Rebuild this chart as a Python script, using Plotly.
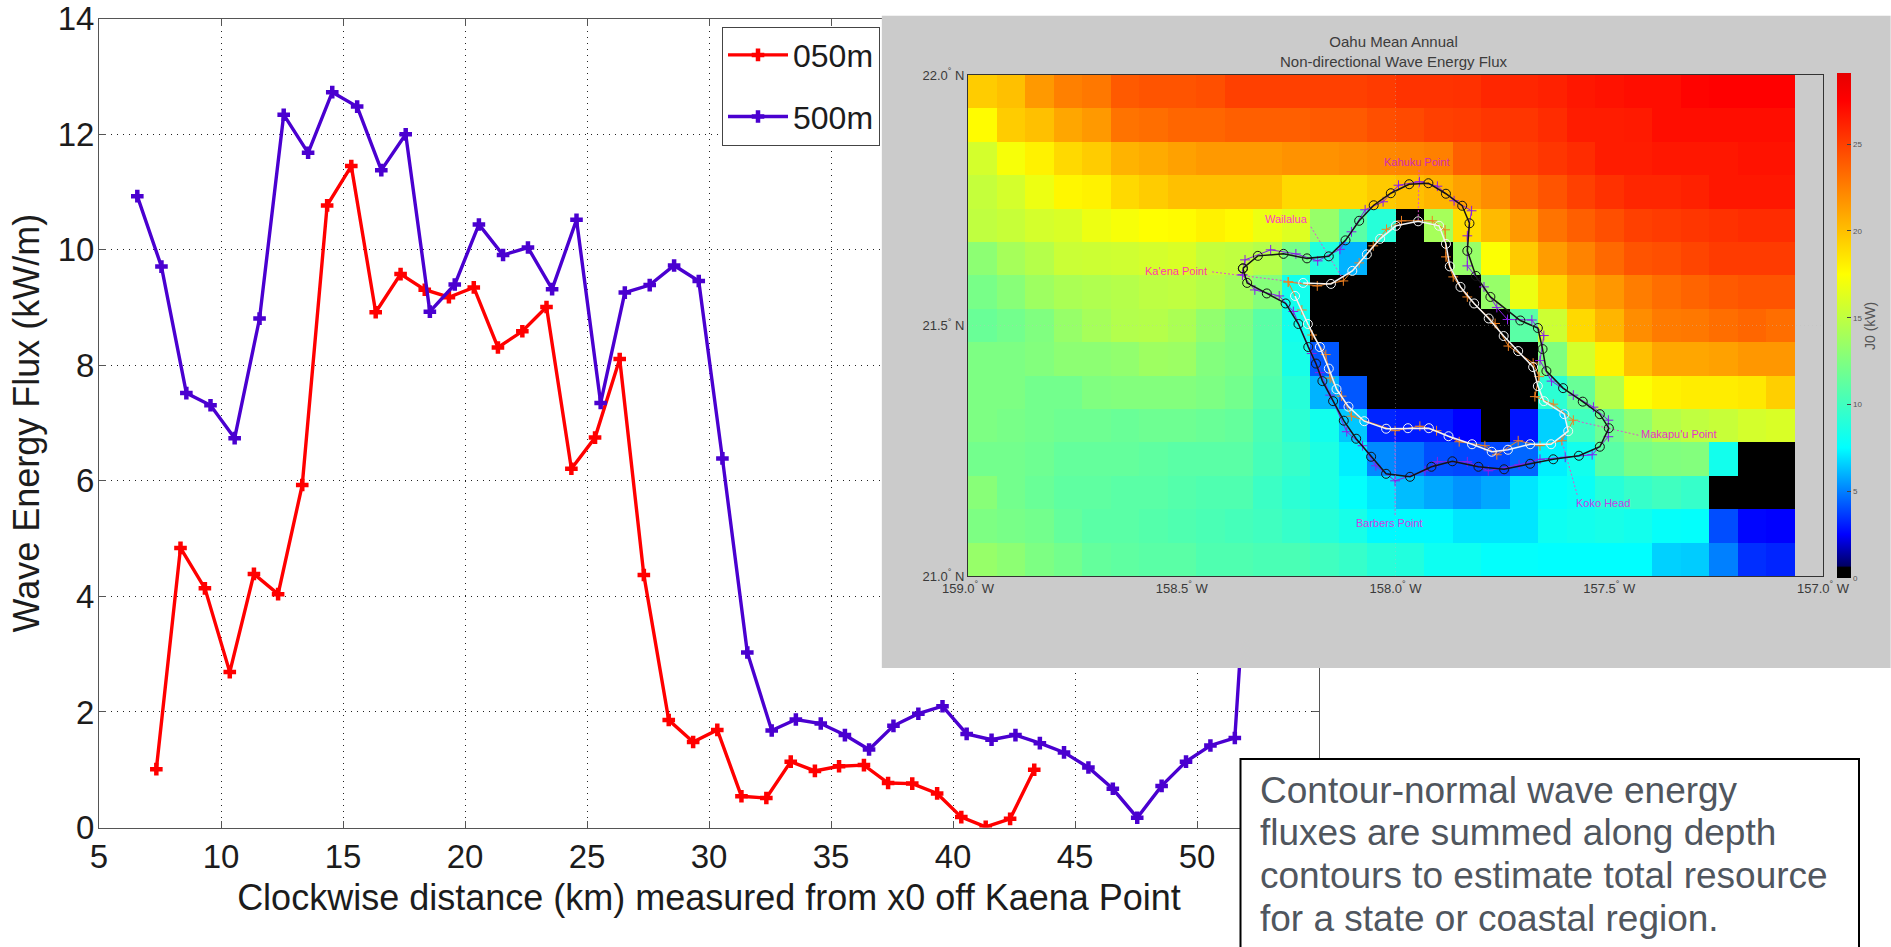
import plotly.graph_objects as go

# ---------- line chart data ----------
X_050 = [7.35, 8.34, 9.34, 10.36, 11.35, 12.34, 13.33, 14.35, 15.34, 16.34, 17.36, 18.35, 19.34, 20.36, 21.35, 22.35, 23.34, 24.36, 25.33, 26.34, 27.33, 28.35, 29.35, 30.34, 31.33, 32.35, 33.35, 34.34, 35.33, 36.35, 37.34, 38.33, 39.35, 40.34, 41.34, 42.34, 43.33]
Y_050 = [1.01, 4.84, 4.14, 2.69, 4.39, 4.04, 5.93, 10.77, 11.45, 8.92, 9.58, 9.31, 9.18, 9.35, 8.31, 8.59, 9.01, 6.21, 6.75, 8.11, 4.37, 1.86, 1.48, 1.69, 0.54, 0.51, 1.14, 0.98, 1.06, 1.08, 0.77, 0.76, 0.59, 0.18, 0.01, 0.15, 1.0]
X_500 = [6.57, 7.56, 8.58, 9.57, 10.56, 11.58, 12.57, 13.57, 14.56, 15.58, 16.57, 17.57, 18.56, 19.58, 20.57, 21.56, 22.58, 23.57, 24.57, 25.56, 26.55, 27.57, 28.57, 29.58, 30.55, 31.57, 32.57, 33.56, 34.58, 35.57, 36.56, 37.56, 38.58, 39.57, 40.56, 41.58, 42.56, 43.56, 44.55, 45.55, 46.55, 47.55, 48.55, 49.55, 50.55, 51.55, 52.55]
Y_500 = [10.93, 9.71, 7.52, 7.31, 6.74, 8.81, 12.34, 11.68, 12.73, 12.48, 11.38, 12.0, 8.93, 9.4, 10.44, 9.91, 10.04, 9.32, 10.52, 7.35, 9.26, 9.39, 9.73, 9.46, 6.39, 3.03, 1.68, 1.87, 1.8, 1.6, 1.35, 1.76, 1.97, 2.1, 1.62, 1.52, 1.6, 1.46, 1.3, 1.04, 0.67, 0.17, 0.72, 1.14, 1.42, 1.55, 8.0]
X_TICKS = [5, 10, 15, 20, 25, 30, 35, 40, 45, 50]
Y_TICKS = [0, 2, 4, 6, 8, 10, 12, 14]

# ---------- map data (kW/m, rows north to south, 0 = land) ----------
ROW_00 = [19.5, 20, 21.5, 22.5, 22.8, 24, 24.2, 24.2, 24.4, 25, 25, 25, 25, 25, 25.2, 25.5, 25.5, 25.6, 26, 26, 26.2, 26.6, 26.8, 27, 27, 27.4, 27.5, 27.5, 27.5, None]
ROW_01 = [17.6, 19.5, 20, 21, 21.5, 23, 23.2, 23.5, 23.5, 23.8, 23.8, 23.8, 24, 24, 24.4, 24.6, 25, 25.1, 25.4, 25.4, 25.8, 26.4, 26.4, 26.5, 27, 27, 27, 27, 27, None]
ROW_02 = [15.8, 17.2, 18, 19, 19.5, 20.5, 20.8, 21.2, 21.5, 21.5, 21.5, 21.8, 21.8, 22, 22.2, 22.3, 22.5, 23.8, 24.4, 25, 25.4, 25.8, 26.4, 26.4, 26.6, 26.6, 26.6, 26.8, 26.8, None]
ROW_03 = [15.2, 15.8, 16.8, 17.8, 18, 19, 19.5, 20, 20, 20, 20, 19, 19, 19, 19.6, 20, 20.4, 21.2, 22, 23.5, 24.2, 25, 25.6, 26, 26, 26.2, 26.6, 26.6, 26.6, None]
ROW_04 = [15, 15.3, 15.8, 16, 16.8, 17.2, 17.5, 17.6, 18, 17.7, 16.8, 16.2, 13.4, 11, 9, 0, 14, 18.8, 20.2, 21.5, 23, 23.8, 24.4, 25, 25.2, 25.4, 25.6, 25.8, 25.8, None]
ROW_05 = [13, 14, 14.6, 15.4, 15.5, 15.6, 15.8, 16, 15.2, 15, 14.6, 12.2, 8.8, 6, 0, 0, 0, 13.4, 17.4, 19.6, 21.4, 22.4, 23.4, 24.2, 24.4, 24.8, 25.2, 25.2, 25.2, None]
ROW_06 = [12.2, 12.8, 13.7, 14.2, 14.4, 14.6, 14.9, 15, 14.6, 13.9, 12.7, 8.2, 0, 0, 0, 0, 0, 0, 13.4, 16.8, 19.2, 20.8, 21.6, 22.6, 23.2, 23.6, 24, 24.2, 24.2, None]
ROW_07 = [11.6, 12, 12.5, 13.4, 14, 14.5, 14.6, 14.2, 13.2, 12.4, 11, 8.2, 0, 0, 0, 0, 0, 0, 0, 11, 15.5, 19, 20.4, 22, 22.7, 22.8, 23.2, 23.5, 23.2, None]
ROW_08 = [12.4, 12.4, 12.6, 13, 13, 13.2, 13.7, 13.6, 12.6, 12.3, 11, 8.4, 4.2, 0, 0, 0, 0, 0, 0, 0, 12.5, 15.8, 18, 20, 21, 21, 21.2, 21.6, 21.6, None]
ROW_09 = [12.4, 12.4, 12, 12, 12.5, 12.6, 12.6, 12.6, 12.4, 12, 10.8, 9, 6, 4.2, 0, 0, 0, 0, 0, 0, 9.2, 11.6, 14.6, 17.4, 18, 18.2, 18.2, 18.4, 19.4, None]
ROW_10 = [12.4, 12.2, 12, 11.8, 11.8, 11.6, 11.8, 11.8, 11.6, 11.4, 10.4, 9.2, 8.2, 6.4, 3.2, 3, 3, 2.5, 0, 2.9, 6.6, 10, 11.8, 13.2, 14.5, 15, 15.3, 15.8, 16, None]
ROW_11 = [12, 12, 11.8, 11.4, 11.4, 11.4, 11.2, 11, 11, 11, 10.2, 9.6, 8.6, 7.2, 5.2, 4.8, 4, 3.9, 3.9, 4.5, 7.2, 8.2, 11, 12.2, 12.5, 12.6, 8.2, 0, 0, None]
ROW_12 = [12.8, 12, 11.6, 11.2, 11.2, 11, 11, 10.8, 10.6, 10.6, 9.8, 9.2, 8.6, 7.6, 7, 6.2, 5.8, 5.4, 5.8, 7, 7.6, 7.9, 9, 9.6, 10, 9.6, 0, 0, 0, None]
ROW_13 = [12.4, 12.2, 12, 11.4, 11, 11, 10.8, 10.6, 10.4, 10.2, 10, 9.6, 9, 8.4, 7.4, 7.4, 7.4, 7, 7, 7, 8, 8.2, 8.4, 8.2, 7.7, 7.6, 4, 2.6, 2.5, None]
ROW_14 = [13.4, 13, 12.4, 12, 11.4, 11.2, 11, 11, 10.6, 10.6, 10.4, 10.4, 10, 9.6, 9, 8.8, 8, 8, 7.6, 7.6, 7.5, 7.5, 7.5, 7.5, 6.6, 6.5, 5, 3.4, 3.2, None]
Z_MAP = [ROW_00, ROW_01, ROW_02, ROW_03, ROW_04, ROW_05, ROW_06, ROW_07, ROW_08, ROW_09, ROW_10, ROW_11, ROW_12, ROW_13, ROW_14]

# contours, longitude in degrees W, latitude in degrees N
LON_OUTER_B = [158.357, 158.322, 158.262, 158.207, 158.156, 158.117, 158.085, 158.051, 158.011, 157.968, 157.923, 157.882, 157.844, 157.827, 157.832, 157.812, 157.778, 157.708, 157.667, 157.656, 157.647, 157.608, 157.562, 157.522, 157.501, 157.522, 157.571, 157.631, 157.685, 157.746, 157.806, 157.867, 157.916, 157.966, 158.022, 158.057, 158.092, 158.121, 158.146, 158.171, 158.186, 158.204, 158.227, 158.257, 158.301, 158.347, 158.357]
LAT_OUTER_B = [21.614, 21.639, 21.643, 21.634, 21.638, 21.67, 21.709, 21.74, 21.764, 21.782, 21.784, 21.763, 21.739, 21.704, 21.649, 21.599, 21.557, 21.51, 21.495, 21.453, 21.409, 21.375, 21.348, 21.323, 21.295, 21.258, 21.24, 21.233, 21.224, 21.213, 21.218, 21.229, 21.218, 21.198, 21.204, 21.238, 21.274, 21.31, 21.349, 21.389, 21.424, 21.457, 21.503, 21.544, 21.564, 21.585, 21.614]
LON_INNER_W = [158.216, 158.151, 158.101, 158.067, 158.036, 157.999, 157.947, 157.898, 157.882, 157.873, 157.848, 157.816, 157.782, 157.747, 157.713, 157.678, 157.667, 157.653, 157.605, 157.596, 157.636, 157.685, 157.737, 157.775, 157.821, 157.876, 157.922, 157.971, 158.022, 158.073, 158.11, 158.138, 158.156, 158.177, 158.205, 158.235]
LAT_INNER_W = [21.585, 21.583, 21.609, 21.642, 21.673, 21.699, 21.708, 21.699, 21.663, 21.618, 21.577, 21.544, 21.514, 21.479, 21.449, 21.417, 21.379, 21.349, 21.323, 21.289, 21.263, 21.263, 21.252, 21.248, 21.263, 21.279, 21.295, 21.295, 21.294, 21.309, 21.338, 21.373, 21.414, 21.457, 21.503, 21.559]
LON_OUTER_P = [158.358, 158.352, 158.292, 158.233, 158.182, 158.13, 158.103, 158.071, 158.029, 157.993, 157.944, 157.902, 157.863, 157.822, 157.832, 157.832, 157.793, 157.763, 157.738, 157.681, 157.653, 157.662, 157.635, 157.584, 157.537, 157.502, 157.502, 157.54, 157.603, 157.662, 157.711, 157.783, 157.832, 157.902, 157.931, 158.001, 158.046, 158.077, 158.114, 158.153, 158.177, 158.196, 158.239, 158.272, 158.329, 158.358]
LAT_OUTER_P = [21.601, 21.631, 21.651, 21.643, 21.629, 21.652, 21.687, 21.731, 21.747, 21.78, 21.787, 21.778, 21.749, 21.729, 21.679, 21.619, 21.577, 21.536, 21.512, 21.511, 21.48, 21.43, 21.389, 21.361, 21.337, 21.311, 21.278, 21.242, 21.237, 21.233, 21.222, 21.21, 21.228, 21.228, 21.21, 21.19, 21.22, 21.26, 21.288, 21.361, 21.406, 21.444, 21.528, 21.559, 21.571, 21.601]
LON_INNER_O = [158.251, 158.183, 158.122, 158.085, 158.052, 158.021, 157.986, 157.914, 157.884, 157.882, 157.865, 157.832, 157.767, 157.736, 157.678, 157.664, 157.674, 157.631, 157.584, 157.611, 157.662, 157.713, 157.763, 157.791, 157.851, 157.904, 157.943, 158.001, 158.103, 158.126, 158.153, 158.163, 158.195, 158.219, 158.251]
LAT_INNER_O = [21.587, 21.579, 21.589, 21.625, 21.659, 21.692, 21.709, 21.709, 21.691, 21.637, 21.597, 21.557, 21.504, 21.459, 21.425, 21.398, 21.358, 21.343, 21.311, 21.27, 21.26, 21.27, 21.242, 21.26, 21.268, 21.29, 21.299, 21.29, 21.319, 21.359, 21.395, 21.442, 21.481, 21.531, 21.587]

PLACE_NAMES = ["Kahuku Point", "Wailalua", "Ka'ena Point", "Makapu'u Point", "Koko Head", "Barbers Point"]
PLACE_LON = [157.950, 158.254, 158.514, 157.338, 157.514, 158.014]
PLACE_LAT = [21.826, 21.713, 21.609, 21.283, 21.146, 21.106]
PLACE_COLORS = ["#d42cb0", "#ff38c8", "#ff38b0", "#e830c8", "#c83ce6", "#d03ce6"]
LEADER_LON = [[157.945, 157.947], [158.198, 158.126], [158.429, 158.219], [157.432, 157.584], [157.575, 157.611], [158.001, 158.001]]
LEADER_LAT = [[21.81, 21.707], [21.697, 21.597], [21.607, 21.585], [21.281, 21.311], [21.162, 21.27], [21.122, 21.291]]

MAP_LON_TICKS = [159.0, 158.5, 158.0, 157.5, 157.0]
MAP_LAT_TICKS = [21.0, 21.5, 22.0]
CB_TICKS = [0, 5, 10, 15, 20, 25]

NOTE_LINES = ["Contour-normal wave energy", "fluxes are summed along depth", "contours to estimate total resource", "for a state or coastal region."]
NOTE_LINE_PX = [790, 832, 875, 918]

W, H = 1891, 947
RED = "#ff0000"
PURPLE = "#4a00d0"
FONT = "Liberation Sans"
INK = "#1c1c1c"


def fx(px):
    return px / W


def fy(py):
    return 1 - py / H


def main_trace(x, y, name, color):
    return go.Scatter(
        x=x, y=y, name=name, legendgroup=name, mode="lines+markers",
        line=dict(color=color, width=3.4),
        marker=dict(symbol="cross-thin", size=9, color=color, line=dict(color=color, width=4.5)),
        xaxis="x", yaxis="y",
    )


fig = go.Figure()
fig.add_trace(main_trace(X_050, Y_050, "050m", RED))
fig.add_trace(main_trace(X_500, Y_500, "500m", PURPLE))

# grey panel that sits over the chart
fig.add_trace(go.Heatmap(z=[[1]], colorscale=[[0, "#cbcbcb"], [1, "#cbcbcb"]], showscale=False,
                         hoverinfo="skip", xaxis="x2", yaxis="y2"))

CS_MAX = 29.1
stops = [(0, "#000000"), (0.6, "#000000"), (0.7, "#000064"), (2.5, "#0000ff"), (7.5, "#00ffff"),
         (12.5, "#80ff80"), (17.5, "#ffff00"), (22.5, "#ff8000"), (27.5, "#ff0000"), (29.1, "#e60000")]
fig.add_trace(go.Heatmap(
    z=Z_MAP, x0=159 - 1 / 30, dx=-1 / 15, y0=22 - 1 / 30, dy=-1 / 15,
    zmin=0, zmax=CS_MAX, colorscale=[[v / CS_MAX, c] for v, c in stops],
    hoverongaps=False, xaxis="x3", yaxis="y3",
    colorbar=dict(
        x=fx(1837), xanchor="left", xpad=0, thickness=14, thicknessmode="pixels",
        y=fy(578), yanchor="bottom", ypad=0, len=505, lenmode="pixels",
        outlinewidth=0, tickvals=CB_TICKS, ticks="inside", ticklen=4, tickcolor="#444444",
        tickfont=dict(family=FONT, size=8, color="#555555"),
    ),
))

for lon, lat in zip(LEADER_LON, LEADER_LAT):
    fig.add_trace(go.Scatter(x=lon, y=lat, mode="lines", showlegend=False, hoverinfo="skip",
                             line=dict(color="#e050d0", width=1, dash="2px,2px"), xaxis="x3", yaxis="y3"))


def contour(lon, lat, line_color, width, symbol, size, marker_width):
    fig.add_trace(go.Scatter(x=lon, y=lat, mode="lines+markers", showlegend=False, hoverinfo="skip",
                             line=dict(color=line_color, width=width),
                             marker=dict(symbol=symbol, size=size, color=line_color,
                                         line=dict(color=line_color, width=marker_width)),
                             xaxis="x3", yaxis="y3"))


contour(LON_OUTER_P, LAT_OUTER_P, "#8a1ee8", 1, "cross-thin", 7, 1)
contour(LON_INNER_O, LAT_INNER_O, "#f08020", 1, "cross-thin", 7, 1)
contour(LON_OUTER_B, LAT_OUTER_B, "#151515", 1.5, "circle-open", 9, 1)
contour(LON_INNER_W, LAT_INNER_W, "#f4f4f4", 1.5, "circle-open", 9, 1)

annotations = []
for name, lon, lat, col in zip(PLACE_NAMES, PLACE_LON, PLACE_LAT, PLACE_COLORS):
    annotations.append(dict(text=name, x=lon, y=lat, xref="x3", yref="y3", xanchor="center", yanchor="middle",
                            showarrow=False, font=dict(family=FONT, size=11, color=col)))

annotations.append(dict(text="Oahu Mean Annual<br>Non-directional Wave Energy Flux", x=fx(1394), y=fy(51),
                        xref="paper", yref="paper", xanchor="center", yanchor="middle", showarrow=False,
                        align="center", font=dict(family=FONT, size=15, color="#3c3c3c")))
annotations.append(dict(text="J0 (kW)", x=fx(1870), y=fy(326), xref="paper", yref="paper", xanchor="center",
                        yanchor="middle", showarrow=False, textangle=-90,
                        font=dict(family=FONT, size=14, color="#555555")))
for line, py in zip(NOTE_LINES, NOTE_LINE_PX):
    annotations.append(dict(text=line, x=fx(1258), y=fy(py), xref="paper", yref="paper", xanchor="left",
                            yanchor="middle", align="left", showarrow=False,
                            font=dict(family=FONT, size=37, color="#50565e")))

shapes = [
    dict(type="rect", xref="paper", yref="paper", x0=fx(1240.5), x1=fx(1859), y0=fy(990), y1=fy(759),
         fillcolor="white", line=dict(color="black", width=2), layer="above"),
    dict(type="line", xref="x3", yref="y3", x0=158, x1=158, y0=21, y1=22, layer="above",
         line=dict(color="rgba(190,190,190,0.4)", width=1, dash="1px,3px")),
    dict(type="line", xref="x3", yref="y3", x0=159, x1=157, y0=21.5, y1=21.5, layer="above",
         line=dict(color="rgba(190,190,190,0.4)", width=1, dash="1px,3px")),
]

axis_common = dict(showline=True, linecolor="#555555", linewidth=1, mirror="ticks", ticks="inside", ticklen=7,
                   tickcolor="#555555", showgrid=True, gridcolor="#222222", gridwidth=1, griddash="1px,5px",
                   zeroline=False, automargin=False, tickfont=dict(family=FONT, size=33, color=INK))
map_axis = dict(showline=True, linecolor="#333333", linewidth=1, mirror=True, ticks="", showgrid=False,
                zeroline=False, automargin=False, tickfont=dict(family=FONT, size=13, color="#3a3a3a"))
hidden = dict(visible=False, showgrid=False, zeroline=False, automargin=False)

fig.update_layout(
    width=W, height=H, margin=dict(l=0, r=0, t=0, b=0), paper_bgcolor="white", plot_bgcolor="rgba(0,0,0,0)",
    showlegend=True,
    legend=dict(x=fx(722), xanchor="left", y=fy(26.6), yanchor="top", bgcolor="white", bordercolor="#444444",
                borderwidth=1, font=dict(family=FONT, size=32, color=INK), itemwidth=60, tracegroupgap=17,
                entrywidth=87, entrywidthmode="pixels"),
    xaxis=dict(axis_common, domain=[fx(99), fx(1319)], range=[5, 55], tickvals=X_TICKS, anchor="y",
               title=dict(text="Clockwise distance (km) measured from x0 off Kaena Point",
                          font=dict(family=FONT, size=36, color=INK), standoff=10)),
    yaxis=dict(axis_common, domain=[fy(827.5), fy(18.8)], range=[0, 14], tickvals=Y_TICKS, anchor="x",
               ticklabelstandoff=-3,
               title=dict(text="Wave Energy Flux (kW/m)", font=dict(family=FONT, size=36, color=INK), standoff=7)),
    xaxis2=dict(hidden, domain=[fx(881.6), 1], anchor="y2"),
    yaxis2=dict(hidden, domain=[fy(668), fy(15.5)], anchor="x2"),
    xaxis3=dict(map_axis, domain=[fx(968), fx(1823)], range=[159, 157], anchor="y3", tickvals=MAP_LON_TICKS,
                ticktext=[f"{v:.1f}<sup>°</sup> W" for v in MAP_LON_TICKS]),
    yaxis3=dict(map_axis, domain=[fy(576), fy(75)], range=[21, 22], anchor="x3", tickvals=MAP_LAT_TICKS,
                ticktext=[f"{v:.1f}<sup>°</sup> N" for v in MAP_LAT_TICKS]),
    annotations=annotations, shapes=shapes,
)

fig.write_html("out.html", config=dict(displayModeBar=False),
               post_script="document.body.style.margin='0';document.body.style.overflow='hidden';")
